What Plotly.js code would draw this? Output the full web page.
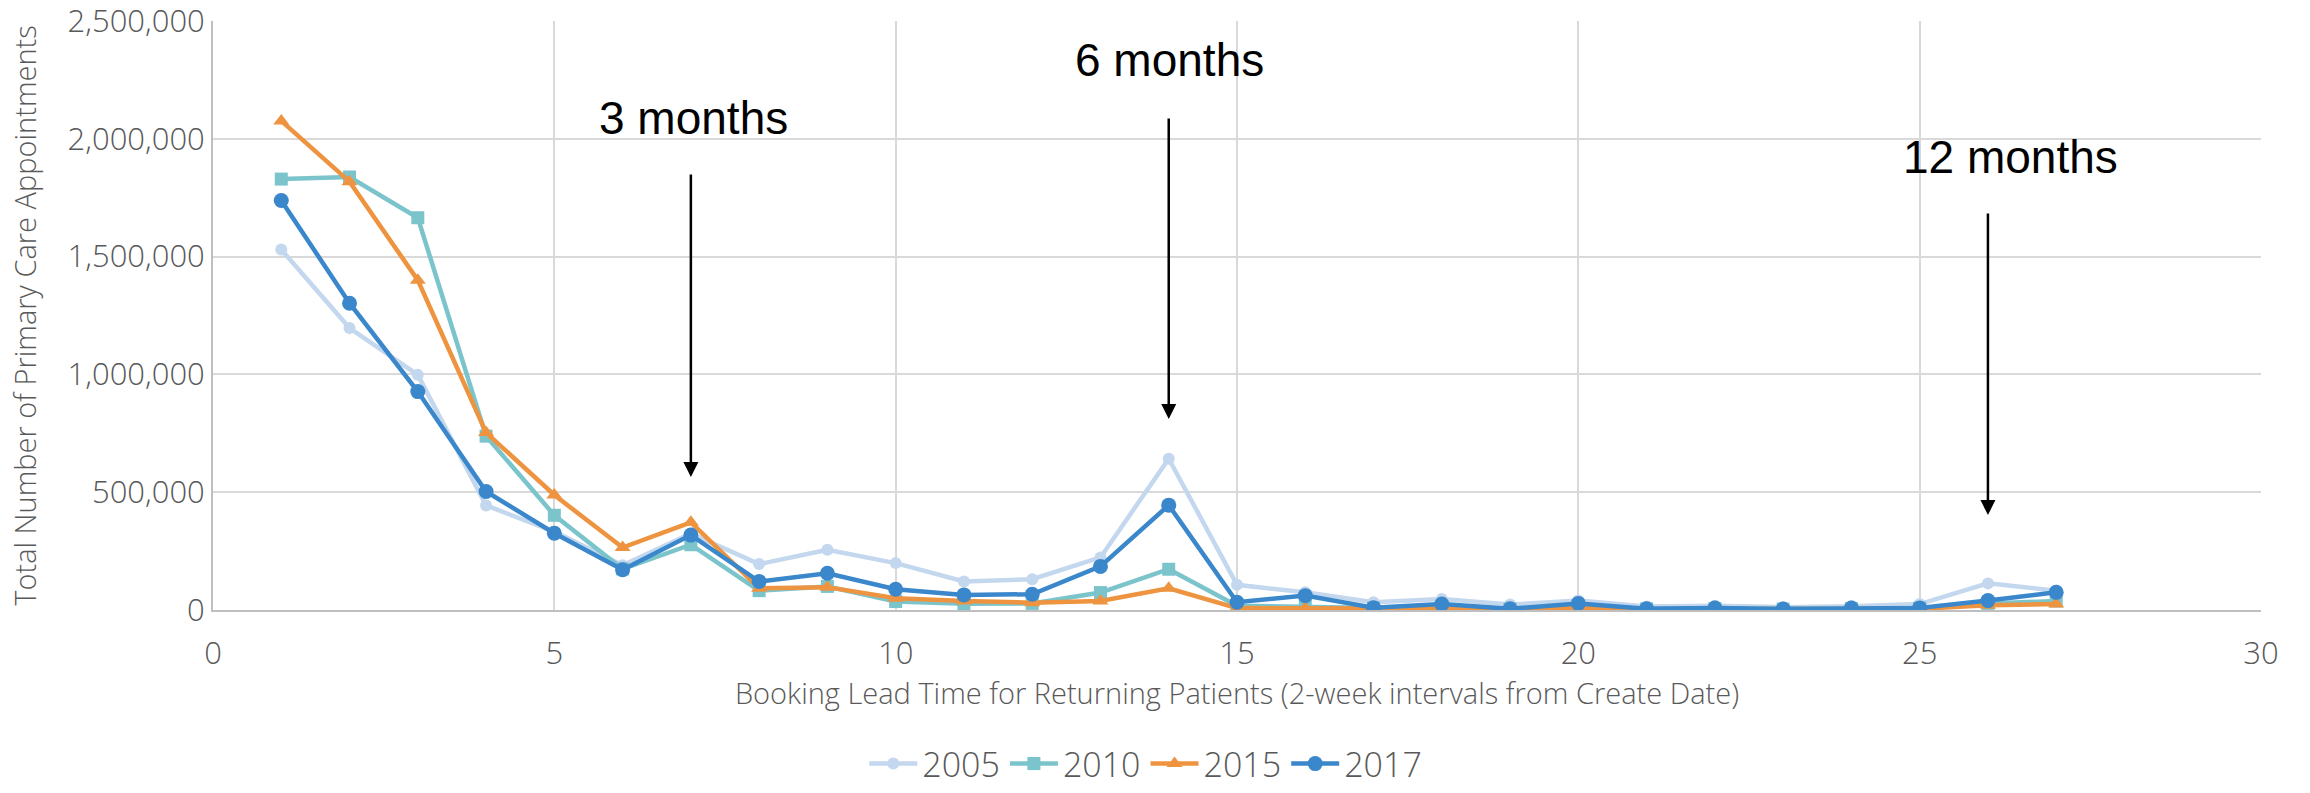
<!DOCTYPE html>
<html>
<head>
<meta charset="utf-8">
<script src="https://cdn.plot.ly/plotly-3.0.1.min.js"></script>
<style>
  html, body { margin: 0; padding: 0; background: #ffffff; }
  #chart { width: 2310px; height: 793px; }
</style>
</head>
<body>
<div id="chart"></div>
<script>
// Booking lead time bins (2-week intervals from create date)
const leadTime = [1, 2, 3, 4, 5, 6, 7, 8, 9, 10, 11, 12, 13, 14, 15, 16, 17, 18, 19, 20, 21, 22, 23, 24, 25, 26, 27];

// Appointment counts per year
const appts2005 = [1530000, 1197000, 998000, 444000, 333000, 190000, 325000, 195000, 256000, 199000, 121000, 131000, 223000, 642000, 107000, 75000, 33000, 47000, 23000, 40000, 15000, 18000, 12000, 16000, 25000, 113000, 82000];
const appts2010 = [1829000, 1838000, 1665000, 738000, 402000, 174000, 277000, 82000, 100000, 36000, 26000, 28000, 74000, 173000, 18000, 15000, 8000, 12000, 5000, 15000, 5000, 6000, 4000, 6000, 8000, 28000, 38000];
const appts2015 = [2076000, 1818000, 1400000, 753000, 488000, 265000, 372000, 92000, 97000, 50000, 38000, 31000, 38000, 92000, 8000, 8000, 4000, 6000, 2000, 8000, 3000, 4000, 2000, 4000, 5000, 20000, 25000];
const appts2017 = [1738000, 1302000, 927000, 503000, 326000, 171000, 318000, 121000, 156000, 88000, 64000, 67000, 185000, 445000, 33000, 61000, 10000, 25000, 5000, 28000, 5000, 8000, 4000, 8000, 9000, 40000, 75000];

const seriesNames = ['2005', '2010', '2015', '2017'];

// Milestone call-outs: label, bin, arrow head / tail heights
const milestoneLabels = ['3 months', '6 months', '12 months'];
const milestoneBins = [7, 14, 26];
const milestoneHeadY = [565000, 811000, 403000];
const milestoneTailY = [1855000, 2093000, 1689000];
const milestoneTextX = [7.04, 14.01, 26.33];
const milestoneTextY = [2088000, 2334000, 1923000];

const styles = [
  { color: '#C3D7EE', symbol: 'circle', size: 12 },
  { color: '#7BC4CC', symbol: 'square', size: 13 },
  { color: '#EE9440', symbol: 'triangle-up', size: 14 },
  { color: '#3A87CB', symbol: 'circle', size: 15 }
];

const values = [appts2005, appts2010, appts2015, appts2017];

const traces = values.map((v, i) => ({
  type: 'scatter',
  mode: 'lines+markers',
  name: seriesNames[i],
  x: leadTime,
  y: v,
  line: { color: styles[i].color, width: 4.5 },
  marker: { color: styles[i].color, symbol: styles[i].symbol, size: styles[i].size }
}));

const tickFont = { family: 'Open Sans, sans-serif', size: 31, color: '#595959', weight: 300 };
const titleFont = { family: 'Open Sans, sans-serif', size: 29, color: '#595959', weight: 300 };

const annotations = [];
milestoneLabels.forEach((label, i) => {
  annotations.push({
    xref: 'x', yref: 'y',
    x: milestoneTextX[i], y: milestoneTextY[i],
    text: label, showarrow: false,
    xanchor: 'center', yanchor: 'middle',
    font: { family: 'Liberation Sans, Arial, sans-serif', size: 46, color: '#000000' }
  });
  annotations.push({
    xref: 'x', yref: 'y', axref: 'x', ayref: 'y',
    x: milestoneBins[i], y: milestoneHeadY[i],
    ax: milestoneBins[i], ay: milestoneTailY[i],
    text: '', showarrow: true,
    arrowhead: 2, arrowsize: 1.2, arrowwidth: 2.5, arrowcolor: '#000000'
  });
});

const layout = {
  width: 2310, height: 793,
  paper_bgcolor: '#ffffff', plot_bgcolor: '#ffffff',
  margin: { l: 213, r: 49, t: 21, b: 183 },
  showlegend: true,
  legend: {
    orientation: 'h',
    xref: 'container', yref: 'container',
    x: 0.496, xanchor: 'center', y: 0, yanchor: 'bottom',
    font: { family: 'Open Sans, sans-serif', size: 34, color: '#595959', weight: 300 },
    itemwidth: 48, tracegroupgap: 0
  },
  xaxis: {
    range: [0, 30], dtick: 5, tick0: 0,
    showgrid: true, gridcolor: '#D9D9D9', gridwidth: 2,
    showline: true, linecolor: '#BFBFBF', linewidth: 2,
    zeroline: false, ticks: '',
    tickfont: tickFont, ticklabelstandoff: 15,
    title: { text: 'Booking Lead Time for Returning Patients (2-week intervals from Create Date)', font: titleFont, standoff: 10 }
  },
  yaxis: {
    range: [0, 2500000], dtick: 500000, tick0: 0,
    tickformat: ',d',
    ticklabeloverflow: 'allow',
    showgrid: true, gridcolor: '#D9D9D9', gridwidth: 2,
    showline: true, linecolor: '#BFBFBF', linewidth: 2,
    zeroline: false, ticks: '',
    tickfont: tickFont,
    title: { text: 'Total Number of Primary Care Appointments', font: titleFont, standoff: 22 }
  },
  annotations: annotations
};

Plotly.newPlot('chart', traces, layout, { displayModeBar: false, staticPlot: true });
</script>
</body>
</html>
